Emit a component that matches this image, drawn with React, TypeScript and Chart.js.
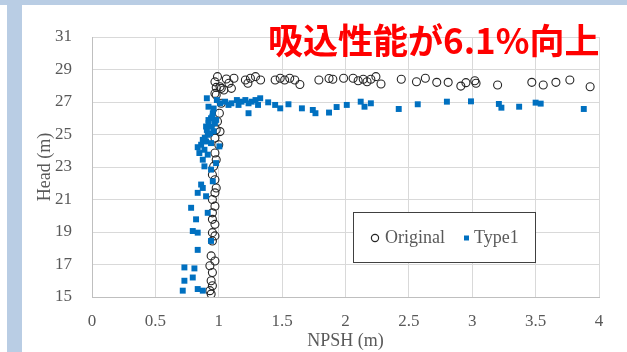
import React, { useEffect, useRef } from "react";
import { Chart, registerables } from "chart.js";

Chart.register(...registerables);

// ---- Data ----
const originalNpsh = [
  0.99, 0.97, 1.06, 1.12, 1.08, 1.01, 1.04, 1.10, 1.21, 1.25, 1.29, 1.33, 1.23,
  1.445, 1.485, 1.52, 1.56, 1.60, 1.64, 1.79, 1.87,
  1.90, 1.985, 2.06, 2.10, 2.14, 2.17, 2.20, 2.24, 2.28, 2.44, 2.56, 2.63, 2.72,
  2.81, 2.91, 2.95, 3.02, 3.03, 3.20, 3.47, 3.56, 3.66, 3.77, 3.93,
  0.98, 1.02, 0.97, 0.98, 1.02, 1.005, 0.99, 0.98, 1.01, 0.97, 1.0, 0.97, 0.98,
  0.96, 0.95, 0.97, 0.98, 0.97, 0.95, 0.97, 0.95, 0.95, 0.97, 0.95, 0.95, 0.97,
  0.94, 0.97, 0.93, 0.95, 0.94, 0.95, 0.93, 0.94,
];
const originalHead = [
  28.56, 28.24, 28.42, 28.46, 28.15, 27.94, 27.74, 27.84, 28.35, 28.46, 28.56, 28.35, 28.15,
  28.35, 28.46, 28.35, 28.46, 28.35, 28.08, 28.35, 28.45,
  28.40, 28.46, 28.46, 28.31, 28.40, 28.25, 28.40, 28.56, 28.11, 28.40, 28.25, 28.46, 28.21,
  28.21, 27.98, 28.19, 28.31, 28.15, 28.05, 28.21, 28.05, 28.21, 28.35, 27.94,
  27.90, 27.84, 27.53, 27.43, 26.92, 26.31, 25.80, 25.29, 25.18, 24.78, 24.37, 23.86, 23.45,
  23.04, 22.53, 22.22, 21.71, 21.41, 21.00, 20.59, 20.18, 19.78, 19.47, 18.96, 18.45, 18.76,
  17.53, 17.22, 16.92, 16.51, 16.00, 15.69, 15.39, 15.18,
];

const type1Npsh = [
  0.906, 0.919, 0.985, 1.011, 1.05, 1.077, 1.10, 1.143, 1.156, 1.18, 1.21, 1.235, 1.26,
  1.29, 1.327, 1.31, 1.235, 1.39, 1.445, 1.485, 1.55, 1.656, 1.742, 1.763, 1.87,
  1.93, 2.01, 2.12, 2.15, 2.20, 2.42, 2.57, 2.80, 2.99, 3.21, 3.23, 3.37, 3.50, 3.54, 3.88,
  0.953, 0.939, 0.919, 0.97, 0.945, 0.90, 0.906, 0.932, 0.913, 0.874, 0.90, 0.861, 0.939,
  0.834, 0.887, 1.005, 0.847, 0.913, 0.874, 0.979, 0.887, 0.939, 0.953, 0.861, 0.874,
  0.834, 0.90, 0.782, 0.913, 0.821, 0.795, 0.834, 0.939, 0.834, 0.729, 0.808, 0.729,
  0.795, 0.716, 0.834, 0.874,
  0.96, 0.95, 0.98, 0.92, 0.96, 0.89,
];
const type1Head = [
  27.23, 26.71, 27.12, 26.92, 27.02, 26.82, 26.92, 27.12, 26.82, 27.02, 27.12, 26.92, 27.02,
  27.12, 27.23, 26.82, 26.31, 26.98, 26.82, 26.61, 26.86, 26.61, 26.51, 26.31, 26.35,
  26.69, 26.82, 27.02, 26.71, 26.92, 26.57, 26.86, 27.02, 27.04, 26.88, 26.65, 26.71, 26.96, 26.90, 26.57,
  26.31, 26.00, 25.89, 25.69, 25.48, 25.49, 25.28, 25.07, 24.98, 24.67, 24.57, 24.37, 24.47,
  24.22, 24.06, 24.27, 23.86, 23.76, 23.45, 23.24, 23.04, 22.84, 22.12, 21.92, 21.71,
  21.41, 21.20, 20.49, 20.18, 19.78, 19.06, 18.96, 18.45, 17.90, 16.82, 16.76, 16.00,
  16.20, 15.39, 15.49, 15.39,
  26.6, 26.1, 25.9, 25.7, 25.2, 24.8,
];

const seriesNames = ["Original", "Type1"];
const xTitle = "NPSH (m)";
const yTitle = "Head (m)";
const headline = "吸込性能が6.1%向上";

const toPoints = (xs: number[], ys: number[]) => xs.map((x, i) => ({ x, y: ys[i] }));

const legendPlugin = {
  id: "boxLegend",
  afterDatasetsDraw(chart: any) {
    const ctx = chart.ctx;
    ctx.save();
    ctx.fillStyle = "#ffffff";
    ctx.fillRect(353.5, 212.5, 182, 50);
    ctx.strokeStyle = "#404040";
    ctx.lineWidth = 1;
    ctx.strokeRect(353.5, 212.5, 182, 50);
    const cy = 238;
    ctx.beginPath();
    ctx.arc(375, cy, 3.6, 0, Math.PI * 2);
    ctx.strokeStyle = "#262626";
    ctx.lineWidth = 1.2;
    ctx.stroke();
    ctx.fillStyle = "#0070c0";
    ctx.fillRect(464, cy - 2.5, 5, 5);
    ctx.fillStyle = "#595959";
    ctx.font = '18px "Liberation Serif", serif';
    ctx.textBaseline = "middle";
    ctx.textAlign = "left";
    ctx.fillText(seriesNames[0], 385, cy);
    ctx.fillText(seriesNames[1], 474, cy);
    ctx.restore();
  },
};

export default function App() {
  const ref = useRef<HTMLCanvasElement>(null);

  useEffect(() => {
    if (!ref.current) return;
    const tickFont = { family: '"Liberation Serif", serif', size: 17 };
    const titleFont = { family: '"Liberation Serif", serif', size: 18 };
    const chart = new Chart(ref.current, {
      type: "scatter",
      data: {
        datasets: [
          {
            label: seriesNames[0],
            data: toPoints(originalNpsh, originalHead),
            pointStyle: "circle",
            pointRadius: 4,
            pointBorderWidth: 1.1,
            borderColor: "#262626",
            backgroundColor: "rgba(0,0,0,0)",
            order: 2,
          },
          {
            label: seriesNames[1],
            data: toPoints(type1Npsh, type1Head),
            pointStyle: "rect",
            pointRadius: 4.2,
            pointBorderWidth: 0,
            borderColor: "#0070c0",
            backgroundColor: "#0070c0",
            order: 1,
          },
        ],
      },
      options: {
        responsive: false,
        animation: false,
        layout: { padding: { left: 0, right: 28, top: 37, bottom: 0 } },
        plugins: { legend: { display: false }, tooltip: { enabled: false } },
        scales: {
          x: {
            type: "linear",
            min: 0,
            max: 4,
            ticks: {
              stepSize: 0.5,
              color: "#595959",
              font: tickFont,
              padding: 14,
              callback: (v: any) => String(Math.round(Number(v) * 10) / 10),
            },
            grid: { color: "#d9d9d9", drawTicks: false },
            border: { color: "#bfbfbf" },
            title: { display: true, text: xTitle, color: "#595959", font: titleFont, padding: { top: 0, bottom: 0 } },
            afterFit: (s: any) => { s.height = 55; },
          },
          y: {
            type: "linear",
            min: 15,
            max: 31,
            ticks: { stepSize: 2, color: "#595959", font: tickFont, padding: 20 },
            grid: { color: "#d9d9d9", drawTicks: false },
            border: { color: "#bfbfbf" },
            title: { display: true, text: yTitle, color: "#595959", font: titleFont, padding: { top: 34, bottom: 0 } },
            afterFit: (s: any) => { s.width = 92; },
          },
        },
      },
      plugins: [legendPlugin],
    });
    return () => chart.destroy();
  }, []);

  return (
    <div style={{ position: "fixed", left: 0, top: 0, width: 627, height: 352, background: "#ffffff", overflow: "hidden" }}>
      <div style={{ position: "absolute", left: 0, top: 0, width: 627, height: 5, background: "#b9cde4" }} />
      <div style={{ position: "absolute", left: 7, top: 0, width: 15, height: 352, background: "#b9cde4" }} />
      <canvas ref={ref} width={627} height={352} style={{ position: "absolute", left: 0, top: 0, width: 627, height: 352 }} />
      <div
        style={{
          position: "absolute",
          left: 268,
          top: 21,
          font: 'bold 35px "Noto Sans CJK JP", sans-serif',
          lineHeight: "35px",
          color: "#ff0000",
          whiteSpace: "nowrap",
        }}
      >
        {headline}
      </div>
    </div>
  );
}
